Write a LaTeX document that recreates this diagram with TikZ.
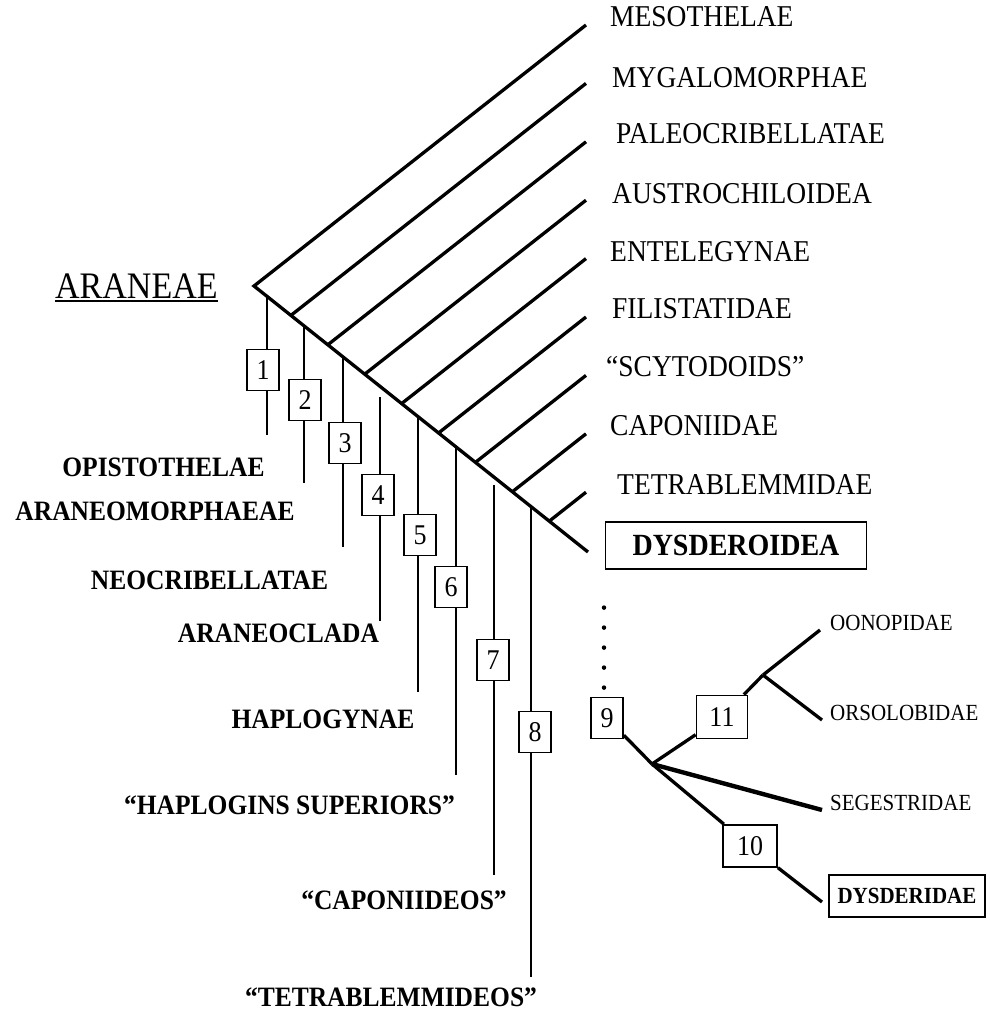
\documentclass[tikz,border=0pt]{standalone}
\usepackage{fontspec}
\setmainfont{Liberation Serif}
\newcommand{\vs}[1]{\scalebox{1}[1.1]{#1}}
\begin{document}
\begin{tikzpicture}[x=1pt,y=-1pt,
  tree/.style={line width=3.3pt},
  thicktree/.style={line width=4.4pt},
  vline/.style={line width=2.4pt},
  numbox/.style={draw,line width=1.8pt,fill=white,minimum width=32pt,minimum height=41pt,inner sep=0pt,font=\fontsize{26}{28}\selectfont},
  taxon/.style={anchor=west,inner sep=0pt,font=\fontsize{27.5}{30}\selectfont},
  clade/.style={inner sep=0pt,font=\bfseries\fontsize{25.5}{28}\selectfont},
  subtaxon/.style={anchor=west,inner sep=0pt,font=\fontsize{21}{24}\selectfont},
  framed/.style={draw,line width=1.8pt,inner sep=0pt},
  dotline/.style={line width=4.5pt,line cap=round,dash pattern=on 0pt off 20pt}]
\path[use as bounding box] (0,0) rectangle (989,1012);

% ---- main tree ----
\coordinate (root) at (254,286);
\coordinate (de) at (588,552);
\foreach \i in {0,...,8} {
  \coordinate (e\i) at (586,{25+58.4*\i});
  \coordinate (s\i) at ({254+36.9*\i},{286+29.4*\i});
}
\draw[tree] (e0) -- (root) -- (de);
\foreach \i in {1,...,8} \draw[tree] (s\i) -- (e\i);

% ---- terminal labels ----
\node[taxon] (tMes) at (610,17) {\vs{MESOTHELAE}};
\node[taxon] (tMyg) at (612,78) {\vs{MYGALOMORPHAE}};
\node[taxon] (tPal) at (616,134) {\vs{PALEOCRIBELLATAE}};
\node[taxon] (tAus) at (612,194) {\vs{AUSTROCHILOIDEA}};
\node[taxon] (tEnt) at (610,252) {\vs{ENTELEGYNAE}};
\node[taxon] (tFil) at (612,309) {\vs{FILISTATIDAE}};
\node[taxon] (tScy) at (606,367) {\vs{``SCYTODOIDS''}};
\node[taxon] (tCap) at (610,426) {\vs{CAPONIIDAE}};
\node[taxon] (tTet) at (617,485) {\vs{TETRABLEMMIDAE}};
\node[framed,minimum width=261pt,minimum height=47pt,font=\bfseries\fontsize{28}{30}\selectfont] (dys) at (736,545.5) {\vs{DYSDEROIDEA}};

% ---- ARANEAE ----
\node[inner sep=0pt,anchor=base west,font=\fontsize{34}{36}\selectfont] (ar) at (55,298) {\vs{ARANEAE}};
\draw[line width=1.6pt] ([yshift=-3pt]ar.base west) -- ([yshift=-3pt]ar.base east);

% ---- synapomorphy lines ----
\coordinate (v1t) at (267,296.4); \coordinate (v1b) at (267,435);
\coordinate (v2t) at (304,325.8); \coordinate (v2b) at (304,483);
\coordinate (v3t) at (343,356.9); \coordinate (v3b) at (343,547);
\coordinate (v4t) at (380,397);   \coordinate (v4b) at (380,621);
\coordinate (v5t) at (418,416.6); \coordinate (v5b) at (418,692);
\coordinate (v6t) at (456,446.9); \coordinate (v6b) at (456,775);
\coordinate (v7t) at (494,485);   \coordinate (v7b) at (494,875);
\coordinate (v8t) at (531,506.6); \coordinate (v8b) at (531,977);
\foreach \i in {1,...,8} \draw[vline] (v\i t) -- (v\i b);

\node[numbox] (b1) at (263,370) {\vs{1}};
\node[numbox] (b2) at (305,400) {\vs{2}};
\node[numbox] (b3) at (345,443) {\vs{3}};
\node[numbox] (b4) at (378,495) {\vs{4}};
\node[numbox] (b5) at (420,535) {\vs{5}};
\node[numbox] (b6) at (451,587) {\vs{6}};
\node[numbox] (b7) at (493,660) {\vs{7}};
\node[numbox] (b8) at (535,732) {\vs{8}};

% ---- clade labels ----
\node[clade] (cOpi) at (163.5,467) {\vs{OPISTOTHELAE}};
\node[clade] (cAra) at (155,511) {\vs{ARANEOMORPHAEAE}};
\node[clade] (cNeo) at (209.5,580) {\vs{NEOCRIBELLATAE}};
\node[clade] (cAcl) at (278.5,633) {\vs{ARANEOCLADA}};
\node[clade] (cHap) at (323,719) {\vs{HAPLOGYNAE}};
\node[clade] (cHsu) at (289.5,805) {\vs{``HAPLOGINS SUPERIORS''}};
\node[clade] (cCap) at (404,900) {\vs{``CAPONIIDEOS''}};
\node[clade] (cTet) at (391,997) {\vs{``TETRABLEMMIDEOS''}};

% ---- Dysderoidea subtree ----
\node[numbox] (b9) at (607,718) {\vs{9}};
\node[numbox,minimum width=51pt,minimum height=43pt] (b11) at (722,717) {\vs{11}};
\node[numbox,minimum width=54pt,minimum height=42pt] (b10) at (750,846) {\vs{10}};
\coordinate (fork) at (652,764);
\coordinate (n11) at (763,675);
\coordinate (eOon) at (820,630);
\coordinate (eOrs) at (822,720);
\coordinate (eSeg) at (822,810);
\coordinate (eDysd) at (822,902);

\draw[dotline] (b9.north) ++(-3,-9) -- ++(0,-100);
\draw[tree] (b9) -- (fork);
\draw[tree] (fork) -- (b11);
\draw[tree] (b11) -- (n11);
\draw[tree] (n11) -- (eOon);
\draw[tree] (n11) -- (eOrs);
\draw[thicktree] (fork) -- (eSeg);
\draw[tree] (fork) -- (b10);
\draw[tree] (b10) -- (eDysd);

\node[subtaxon] (lOon) at (830,623) {\vs{OONOPIDAE}};
\node[subtaxon] (lOrs) at (830,713) {\vs{ORSOLOBIDAE}};
\node[subtaxon] (lSeg) at (830,803) {\vs{SEGESTRIDAE}};
\node[framed,minimum width=156pt,minimum height=42pt,font=\bfseries\fontsize{21}{24}\selectfont] (lDysd) at (907,896) {\vs{DYSDERIDAE}};
\end{tikzpicture}
\end{document}
